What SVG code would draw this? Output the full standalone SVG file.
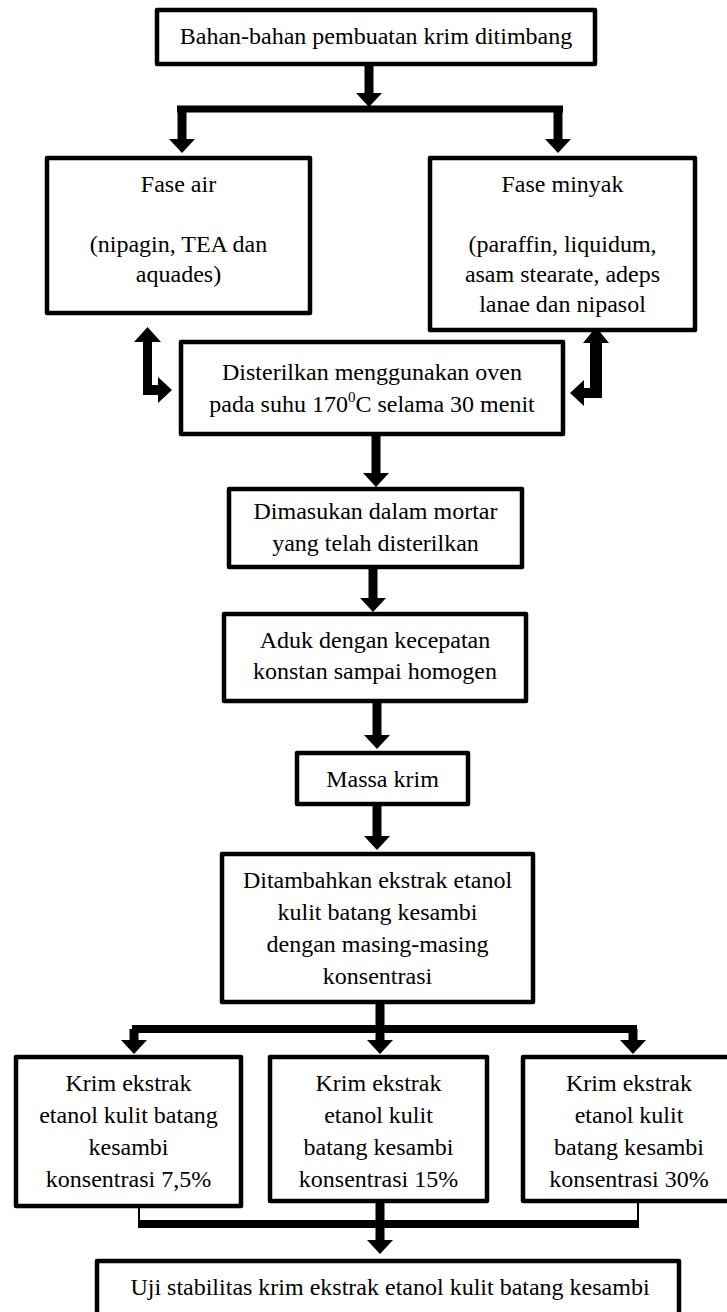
<svg xmlns="http://www.w3.org/2000/svg" width="727" height="1312" viewBox="0 0 727 1312">
<style>
.box{fill:#fff;stroke:#000;stroke-width:4.5;stroke-linejoin:round}
.t{font-family:"Liberation Serif","Times New Roman",serif;font-size:24px;fill:#000;text-anchor:middle}
.c{fill:none;stroke:#000;stroke-width:9}
.thin{fill:none;stroke:#000;stroke-width:2}
.bar{fill:none;stroke:#000;stroke-width:7}
.bent{fill:#000;stroke:none}
</style>
<defs>
<marker id="ah" viewBox="0 0 14 26" refX="0" refY="13" markerWidth="14" markerHeight="26" markerUnits="userSpaceOnUse" orient="auto">
<path d="M0,0 L14,13 L0,26 Z" fill="#000"/>
</marker>
</defs>
<rect width="727" height="1312" fill="#fff"/>

<g id="connectors">
<path class="c" d="M369,64 V93" marker-end="url(#ah)"/>
<path class="bar" d="M177,109 H563"/>
<path class="c" d="M182,109 V139" marker-end="url(#ah)"/>
<path class="c" d="M558,109 V139" marker-end="url(#ah)"/>
<polygon class="bent" points="147.5,327 161,342 152,342 152,385 158,385 158,377 172,390 158,403 158,395 143,395 143,342 134,342"/>
<polygon class="bent" points="596,327 609,343 602,343 602,398 584,398 584,406 570,393 584,380 584,388 590,388 590,343 583,343"/>
<path class="c" d="M376,434 V473" marker-end="url(#ah)"/>
<path class="c" d="M373,567 V598" marker-end="url(#ah)"/>
<path class="c" d="M377,701 V735" marker-end="url(#ah)"/>
<path class="c" d="M377,804 V836" marker-end="url(#ah)"/>
<path class="c" d="M380,1002 V1029"/>
<path class="bar" d="M132,1029 H637" style="stroke-width:8"/>
<path class="c" d="M134,1029 V1040" marker-end="url(#ah)"/>
<path class="c" d="M380,1029 V1040" marker-end="url(#ah)"/>
<path class="c" d="M633,1029 V1040" marker-end="url(#ah)"/>
<path class="thin" d="M139,1206 V1228"/>
<path class="thin" d="M638,1201 V1228"/>
<path class="bar" d="M139,1224 H639" style="stroke-width:8"/>
<path class="c" d="M380,1201 V1240" marker-end="url(#ah)"/>
</g>

<g id="n-top">
<rect class="box" x="157" y="10" width="438" height="54"/>
<text class="t" x="376" y="44">Bahan-bahan pembuatan krim ditimbang</text>
</g>

<g id="n-fase-air">
<rect class="box" x="47" y="158" width="263" height="155"/>
<text class="t" x="178.5" y="192">Fase air</text>
<text class="t" x="178.5" y="252">(nipagin, TEA dan</text>
<text class="t" x="178.5" y="282">aquades)</text>
</g>

<g id="n-fase-minyak">
<rect class="box" x="430" y="158" width="265" height="172"/>
<text class="t" x="562.5" y="192">Fase minyak</text>
<text class="t" x="562.5" y="252">(paraffin, liquidum,</text>
<text class="t" x="562.5" y="282">asam stearate, adeps</text>
<text class="t" x="562.5" y="312">lanae dan nipasol</text>
</g>

<g id="n-steril">
<rect class="box" x="181" y="342" width="382" height="92"/>
<text class="t" x="372" y="380">Disterilkan menggunakan oven</text>
<text class="t" x="372" y="412">pada suhu 170<tspan font-size="15" dy="-10">0</tspan><tspan dy="10">C selama 30 menit</tspan></text>
</g>

<g id="n-mortar">
<rect class="box" x="229" y="489" width="293" height="78"/>
<text class="t" x="375.5" y="519">Dimasukan dalam mortar</text>
<text class="t" x="375.5" y="551">yang telah disterilkan</text>
</g>

<g id="n-aduk">
<rect class="box" x="224" y="614" width="302" height="87"/>
<text class="t" x="375" y="648">Aduk dengan kecepatan</text>
<text class="t" x="375" y="679">konstan sampai homogen</text>
</g>

<g id="n-massa">
<rect class="box" x="297" y="753" width="171" height="51"/>
<text class="t" x="382.5" y="787">Massa krim</text>
</g>

<g id="n-ekstrak">
<rect class="box" x="222" y="854" width="311" height="148"/>
<text class="t" x="377.5" y="888">Ditambahkan ekstrak etanol</text>
<text class="t" x="377.5" y="920">kulit batang kesambi</text>
<text class="t" x="377.5" y="952">dengan masing-masing</text>
<text class="t" x="377.5" y="984">konsentrasi</text>
</g>

<g id="n-k75">
<rect class="box" x="16" y="1057" width="225" height="149"/>
<text class="t" x="128.5" y="1091">Krim ekstrak</text>
<text class="t" x="128.5" y="1123">etanol kulit batang</text>
<text class="t" x="128.5" y="1155">kesambi</text>
<text class="t" x="128.5" y="1187">konsentrasi 7,5%</text>
</g>

<g id="n-k15">
<rect class="box" x="270" y="1057" width="217" height="144"/>
<text class="t" x="378.5" y="1091">Krim ekstrak</text>
<text class="t" x="378.5" y="1123">etanol kulit</text>
<text class="t" x="378.5" y="1155">batang kesambi</text>
<text class="t" x="378.5" y="1187">konsentrasi 15%</text>
</g>

<g id="n-k30">
<rect class="box" x="523" y="1057" width="212" height="144"/>
<text class="t" x="629" y="1091">Krim ekstrak</text>
<text class="t" x="629" y="1123">etanol kulit</text>
<text class="t" x="629" y="1155">batang kesambi</text>
<text class="t" x="629" y="1187">konsentrasi 30%</text>
</g>

<g id="n-uji">
<rect class="box" x="97" y="1261" width="582" height="70"/>
<text class="t" x="390" y="1295">Uji stabilitas krim ekstrak etanol kulit batang kesambi</text>
</g>
</svg>
